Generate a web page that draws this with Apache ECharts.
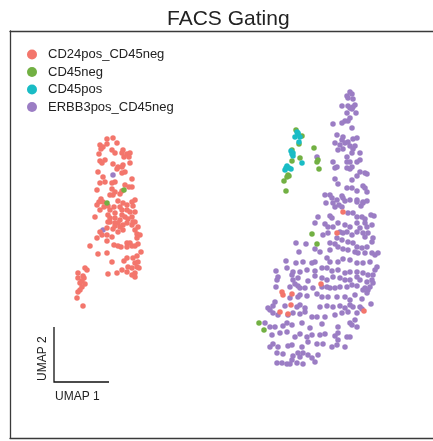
<!DOCTYPE html>
<html>
<head>
<meta charset="utf-8">
<script src="https://cdn.jsdelivr.net/npm/echarts@6/dist/echarts.min.js"></script>
<style>
  html, body { margin: 0; padding: 0; background: #fff; }
  #chart { width: 433px; height: 441px; }
</style>
</head>
<body>
<div id="chart"></div>
<script>
// groups, in legend order
var groups = ['CD24pos_CD45neg', 'CD45neg', 'CD45pos', 'ERBB3pos_CD45neg'];
var colors = ['#f3766c', '#72b043', '#19bcc5', '#9b7dc4'];

// embedding coordinates (UMAP 1 -> right, UMAP 2 -> up, y stored top-down)
var cd24pos_cd45neg = [
    [107,139],[113,138],[117,143],[100,145],[103,147],[101,149],[107,144],[112,150],[115,153],[123,150],
    [127,154],[122,153],[130,153],[124,157],[129,157],[99,154],[100,161],[105,160],[102,163],[113,164],
    [118,167],[123,165],[130,163],[117,169],[122,167],[98,172],[125,172],[122,173],[103,177],[132,179],
    [100,183],[105,182],[112,183],[115,182],[125,185],[132,187],[129,187],[97,190],[112,189],[115,192],
    [120,194],[113,195],[110,195],[122,191],[101,199],[99,202],[103,202],[97,205],[104,207],[100,210],
    [108,206],[110,210],[114,207],[118,201],[123,203],[127,205],[132,202],[135,200],[133,206],[120,207],
    [122,210],[127,210],[130,212],[135,212],[115,213],[122,215],[108,215],[110,218],[115,218],[120,220],
    [125,217],[128,219],[132,217],[133,222],[118,223],[110,222],[95,217],[108,222],[115,223],[123,225],
    [127,223],[132,225],[135,222],[138,227],[100,232],[107,228],[102,235],[107,235],[112,237],[97,238],
    [113,229],[118,232],[123,230],[120,227],[115,226],[135,230],[137,234],[140,235],[107,241],[137,238],
    [90,246],[114,245],[118,246],[121,247],[127,243],[130,243],[132,246],[127,247],[135,246],[138,244],
    [98,254],[107,253],[141,252],[137,256],[133,258],[127,258],[124,261],[112,262],[135,263],[138,262],
    [137,267],[128,267],[132,268],[122,270],[127,272],[139,268],[85,268],[87,270],[117,273],[108,274],
    [132,275],[135,273],[135,277],[78,273],[83,276],[84,278],[78,278],[82,281],[80,283],[85,284],
    [82,287],[80,290],[78,292],[77,298],[83,306],
    [343,212],[337,233],[321,284],[282,292],[283,295],[292,294],[291,305],[280,312],[288,314],[364,311]
];
var cd45neg = [
    [124,190],[107,203],[296,130],[302,136],[299,144],[292,150],[314,148],[300,158],[318,160],[317,162],
    [292,161],[319,169],[288,175],[287,177],[289,176],[284,181],[286,191],[312,234],[317,244],[259,323],
    [264,330]
];
var cd45pos = [
    [297,132],[298,134],[295,137],[300,137],[298,133],[299,142],[291,151],[293,153],[293,156],[292,154],
    [302,163],[287,166],[286,168],[289,168],[285,170],[291,169]
];
var erbb3pos_cd45neg = [
    [350,92],[352,94],[347,96],[348,98],[353,99],[342,106],[348,106],[350,108],[353,107],[352,109],
    [355,105],[347,113],[356,113],[350,118],[348,121],[345,121],[333,124],[342,123],[352,128],[337,135],
    [343,137],[342,140],[335,143],[340,145],[345,143],[348,142],[353,139],[357,138],[350,146],[355,146],
    [353,149],[343,149],[338,150],[352,153],[360,153],[347,157],[333,162],[347,162],[350,162],[357,162],
    [360,160],[337,167],[335,168],[352,167],[350,169],[347,168],[360,172],[365,173],[367,174],[357,176],
    [352,180],[335,179],[338,184],[347,188],[352,188],[357,191],[363,186],[365,188],[367,192],[325,195],
    [330,195],[332,198],[337,200],[342,196],[343,198],[345,201],[350,200],[357,200],[363,202],[367,201],
    [317,157],
    [326,203],[333,203],[339,205],[342,207],[335,207],[357,202],[363,203],[361,206],
    [348,213],[353,213],[330,216],[332,218],[318,217],[357,217],[362,217],[371,215],[374,216],[365,219],
    [315,223],[325,224],[338,223],[328,227],[333,227],[345,225],[350,227],[357,223],[365,223],[367,227],
    [360,228],[372,225],[340,232],
    [323,235],[328,233],[343,233],[347,232],[352,235],[357,232],[363,233],[368,233],[365,237],[373,238],
    [372,242],
    [296,243],[306,244],[330,243],[335,244],[342,240],[348,242],[353,243],[337,238],[357,247],[362,248],
    [367,247],
    [299,252],[315,249],[320,252],[330,250],[338,247],[343,249],[348,250],[355,252],[358,253],[365,253],
    [372,253],[378,253],[375,255],
    [286,261],[296,263],[303,262],[312,263],[315,262],[327,258],[330,262],[338,262],[343,259],[350,260],
    [357,263],[363,263],[370,262],[377,267],[375,270],
    [276,271],[287,268],[293,272],[300,272],[307,270],[315,271],[322,268],[327,268],[332,271],[338,270],
    [345,273],[350,272],[357,272],[363,273],[368,275],[373,275],
    [278,277],[277,280],[292,275],[293,280],[298,278],[308,281],[315,276],[322,278],[327,280],[333,277],
    [340,278],[345,280],[350,280],[357,277],[360,280],[367,282],[372,280],[373,283],
    [276,287],[290,287],[295,284],[298,286],[300,288],[305,288],[313,288],[322,287],[327,287],[330,288],
    [335,288],[340,287],[347,287],[352,285],[357,286],[365,288],[368,290],[370,287],
    [275,302],[290,298],[298,297],[300,295],[307,296],[317,294],[322,297],[328,297],[337,297],[345,297],
    [350,300],[355,295],[362,299],[367,293],[363,290],
    [268,308],[270,310],[273,306],[285,306],[297,307],[300,305],[305,308],[320,307],[327,306],[333,307],
    [340,306],[345,308],[350,305],[353,307],[360,307],[371,304],
    [273,313],[278,315],[288,315],[293,313],[300,314],[305,312],[312,317],[317,317],[325,317],[335,315],
    [342,313],[348,312],[357,313],[362,309],
    [265,323],[270,327],[275,327],[283,326],[287,323],[292,325],[302,323],[310,328],[322,324],[338,327],
    [350,323],[355,320],[352,325],[357,327],
    [272,335],[280,333],[287,332],[295,337],[300,334],[307,337],[312,335],[320,335],[325,334],[335,336],
    [338,333],[347,337],[350,337],[338,340],
    [270,347],[273,344],[278,347],[288,346],[292,345],[302,347],[308,342],[317,344],[323,344],[332,347],
    [337,345],[345,347],
    [277,353],[283,354],[293,356],[298,353],[300,357],[303,353],[308,355],[312,358],[318,355],[292,360],
    [277,363],[282,363],[287,364],[290,364],[297,363],[303,364],[315,362],
    [113,175],[103,230]
];
var groupData = [cd24pos_cd45neg, cd45neg, cd45pos, erbb3pos_cd45neg];

// panel frame is drawn by the axis lines; the right side runs off the page
var frameLine = { show: true, lineStyle: { color: '#3a3a3a', width: 1.3 } };
var bare = {
    type: 'value',
    axisTick: { show: false },
    axisLabel: { show: false },
    splitLine: { show: false }
};

var series = groups.map(function (name, i) {
    return {
        name: name,
        type: 'scatter',
        data: groupData[i],
        symbolSize: 5.5,
        itemStyle: { color: colors[i], opacity: 1 },
        emphasis: { disabled: true },
        z: i == 3 ? 2 : 3
    };
});

var option = {
    animation: false,
    textStyle: { fontFamily: 'Liberation Sans, Arial, sans-serif' },
    title: {
        text: 'FACS Gating',
        left: 162,
        top: 4,
        textStyle: { fontSize: 21, fontWeight: 'normal', color: '#222' }
    },
    legend: {
        data: groups,
        orient: 'vertical',
        left: 22,
        top: 43,
        icon: 'circle',
        itemWidth: 10,
        itemHeight: 10,
        itemGap: 4.5,
        textStyle: { fontSize: 13, color: '#222', padding: [0, 0, 0, 6] }
    },
    grid: {
        left: 10,
        top: 31,
        right: 0,
        height: 407
    },
    xAxis: [
        Object.assign({ min: 10, max: 433, position: 'bottom', axisLine: frameLine }, bare),
        Object.assign({ min: 10, max: 433, position: 'top', axisLine: frameLine }, bare)
    ],
    yAxis: Object.assign({ min: 31, max: 438, inverse: true, axisLine: frameLine }, bare),
    graphic: [
        {
            type: 'polyline',
            shape: { points: [[54, 327], [54, 382], [109, 382]] },
            style: { stroke: '#111', lineWidth: 1.3, fill: null }
        },
        {
            type: 'text',
            left: 55,
            top: 391,
            style: { text: 'UMAP 1', fontSize: 12, fill: '#222', fontFamily: 'Liberation Sans, Arial, sans-serif' }
        },
        {
            type: 'text',
            x: 37,
            y: 381,
            rotation: Math.PI / 2,
            style: { text: 'UMAP 2', fontSize: 12, fill: '#222', fontFamily: 'Liberation Sans, Arial, sans-serif' }
        }
    ],
    series: series
};

echarts.init(document.getElementById('chart')).setOption(option);
</script>
</body>
</html>
